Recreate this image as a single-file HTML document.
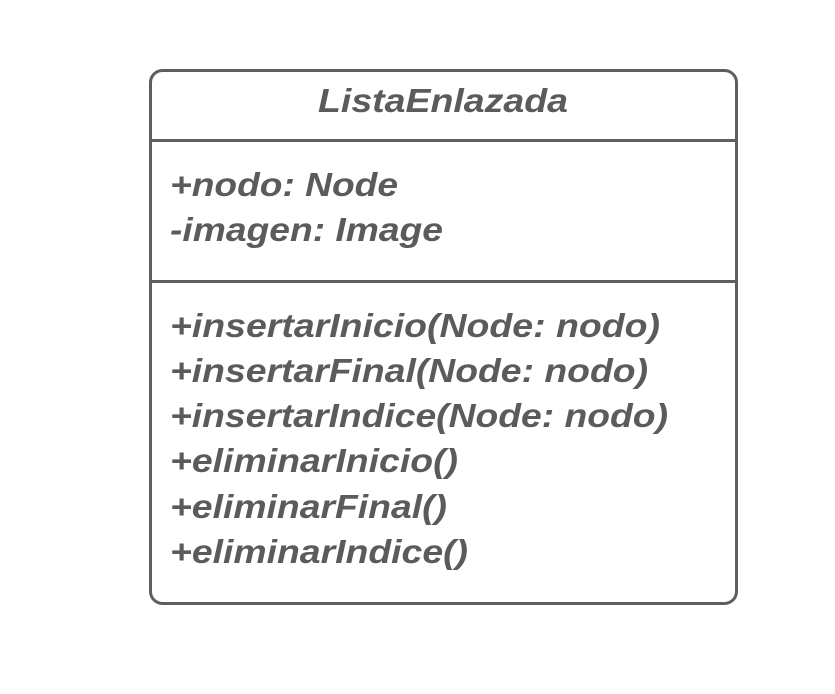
<!DOCTYPE html>
<html><head><meta charset="utf-8"><style>
html,body{margin:0;padding:0;background:#fff;width:835px;height:694px;overflow:hidden}
svg text{font-family:"Liberation Sans",Arial,sans-serif;font-weight:bold;font-style:italic;font-size:33px;fill:#5b5b5b}
</style></head><body>
<svg width="835" height="694" viewBox="0 0 835 694">
<rect x="150.5" y="70.5" width="586" height="533" rx="12" fill="#fff" stroke="#5e5e5e" stroke-width="3"/>
<line x1="150" y1="140.5" x2="737" y2="140.5" stroke="#5e5e5e" stroke-width="3"/>
<line x1="150" y1="281.5" x2="737" y2="281.5" stroke="#5e5e5e" stroke-width="3"/>
<text x="318" y="112" textLength="250" lengthAdjust="spacingAndGlyphs">ListaEnlazada</text>
<text x="170" y="196" textLength="228" lengthAdjust="spacingAndGlyphs">+nodo: Node</text>
<text x="170" y="241" textLength="273" lengthAdjust="spacingAndGlyphs">-imagen: Image</text>
<text x="170" y="337" textLength="490" lengthAdjust="spacingAndGlyphs">+insertarInicio(Node: nodo)</text>
<text x="170" y="382" textLength="478" lengthAdjust="spacingAndGlyphs">+insertarFinal(Node: nodo)</text>
<text x="170" y="427" textLength="498" lengthAdjust="spacingAndGlyphs">+insertarIndice(Node: nodo)</text>
<text x="170" y="472" textLength="288" lengthAdjust="spacingAndGlyphs">+eliminarInicio()</text>
<text x="170" y="518" textLength="277" lengthAdjust="spacingAndGlyphs">+eliminarFinal()</text>
<text x="170" y="563" textLength="298" lengthAdjust="spacingAndGlyphs">+eliminarIndice()</text>
</svg>
</body></html>
